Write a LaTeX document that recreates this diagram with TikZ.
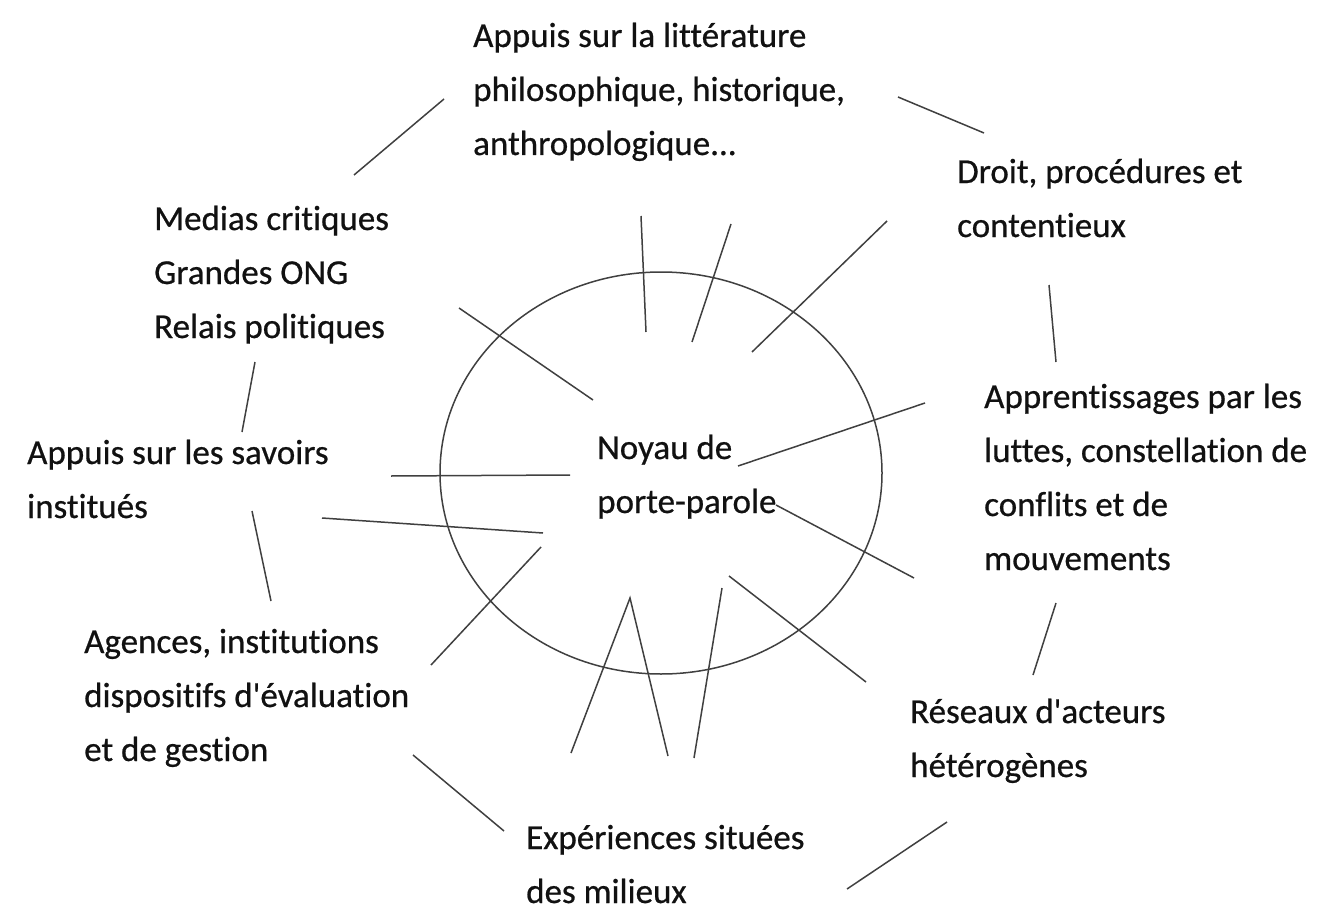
\documentclass[tikz,border=0pt]{standalone}
\usepackage{fontspec}
\setmainfont{Carlito}[Ligatures={TeXOff,NoCommon},FakeBold=0.6]
\usetikzlibrary{shapes.geometric}
\definecolor{txt}{HTML}{111111}
\definecolor{ln}{HTML}{404040}
\begin{document}
\begin{tikzpicture}[x=1pt,y=-1pt,
  lbl/.style={anchor=base west, inner sep=0pt, align=left, font=\fontsize{35}{54}\selectfont, text=txt},
  seg/.style={draw=ln, line width=1.5pt},
  ring/.style={ellipse, draw=ln, line width=1.5pt, minimum width=442pt, minimum height=402pt, inner sep=0pt}]
\useasboundingbox[fill=white] (0,0) rectangle (1321,912);

% core (anchors are the baselines of the last lines)
\node[ring] (core) at (661,473) {};
\node[lbl] (noyau) at (597,513) {Noyau de\\porte-parole};

% labels
\node[lbl] (litt) at (473,155) {Appuis sur la littérature\\philosophique, historique,\\anthropologique...};
\node[lbl] (droit) at (957,237) {Droit, procédures et\\contentieux};
\node[lbl] (medias) at (154,338) {Medias critiques\\Grandes ONG\\Relais politiques};
\node[lbl] (appr) at (984,570) {Apprentissages par les\\luttes, constellation de\\conflits et de\\mouvements};
\node[lbl] (savoirs) at (27,518) {Appuis sur les savoirs\\institués};
\node[lbl] (agences) at (84,761) {Agences, institutions\\dispositifs d'évaluation\\et de gestion};
\node[lbl] (reseaux) at (910,777) {Réseaux d'acteurs\\hétérogènes};
\node[lbl] (exp) at (526,903) {Expériences situées\\des milieux};

% segment end points
\coordinate (s1a) at (444,99);  \coordinate (s1b) at (354,175);
\coordinate (s2a) at (641,216); \coordinate (s2b) at (646,332);
\coordinate (s3a) at (459,308); \coordinate (s3b) at (593,400);
\coordinate (s4a) at (255,362); \coordinate (s4b) at (242,432);
\coordinate (s5a) at (898,97);  \coordinate (s5b) at (984,133);
\coordinate (s6a) at (731,224); \coordinate (s6b) at (692,342);
\coordinate (s7a) at (887,221); \coordinate (s7b) at (752,352);
\coordinate (s8a) at (1049,285); \coordinate (s8b) at (1056,362);
\coordinate (s9a) at (925,403); \coordinate (s9b) at (738,466);
\coordinate (s10a) at (391,476); \coordinate (s10b) at (570,475);
\coordinate (s11a) at (322,518); \coordinate (s11b) at (543,533);
\coordinate (s12a) at (252,511); \coordinate (s12b) at (271,601);
\coordinate (s13a) at (541,547); \coordinate (s13b) at (431,665);
\coordinate (s14a) at (413,755); \coordinate (s14b) at (504,831);
\coordinate (s15a) at (571,753); \coordinate (s15b) at (630,598); \coordinate (s15c) at (668,756);
\coordinate (s16a) at (722,588); \coordinate (s16b) at (694,758);
\coordinate (s17a) at (729,576); \coordinate (s17b) at (866,682);
\coordinate (s18a) at (776,505); \coordinate (s18b) at (914,578);
\coordinate (s19a) at (1056,603); \coordinate (s19b) at (1033,675);
\coordinate (s20a) at (947,822); \coordinate (s20b) at (847,889);

\draw[seg] (s1a) -- (s1b);
\draw[seg] (s2a) -- (s2b);
\draw[seg] (s3a) -- (s3b);
\draw[seg] (s4a) -- (s4b);
\draw[seg] (s5a) -- (s5b);
\draw[seg] (s6a) -- (s6b);
\draw[seg] (s7a) -- (s7b);
\draw[seg] (s8a) -- (s8b);
\draw[seg] (s9a) -- (s9b);
\draw[seg] (s10a) -- (s10b);
\draw[seg] (s11a) -- (s11b);
\draw[seg] (s12a) -- (s12b);
\draw[seg] (s13a) -- (s13b);
\draw[seg] (s14a) -- (s14b);
\draw[seg] (s15a) -- (s15b) -- (s15c);
\draw[seg] (s16a) -- (s16b);
\draw[seg] (s17a) -- (s17b);
\draw[seg] (s18a) -- (s18b);
\draw[seg] (s19a) -- (s19b);
\draw[seg] (s20a) -- (s20b);
\end{tikzpicture}
\end{document}
